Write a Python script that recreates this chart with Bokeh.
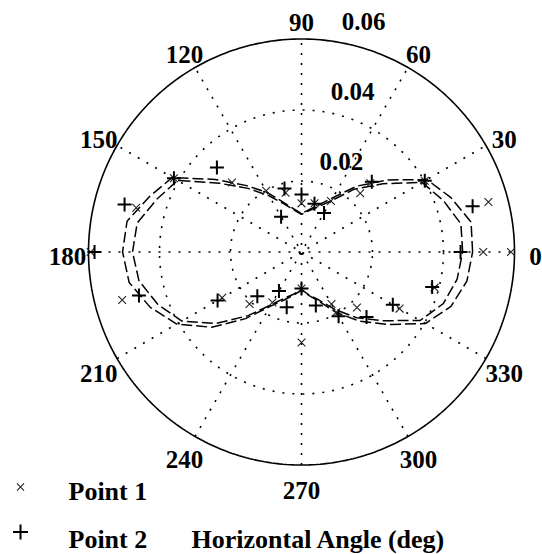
import numpy as np
from bokeh.plotting import figure
from bokeh.models import Range1d
from bokeh.embed import file_html
from bokeh.resources import INLINE
from bokeh.core.properties import value

# ---------------- data ----------------
curve_angles = [0, 10, 20, 30, 40, 50, 60, 70, 80, 90, 100, 110, 120, 130, 140, 150, 160, 170,
                180, 190, 200, 210, 220, 230, 240, 250, 260, 270, 280, 290, 300, 310, 320, 330, 340, 350]
curve1_r = [0.0482, 0.0485, 0.0448, 0.0408, 0.0316, 0.0242, 0.0177, 0.0141, 0.0121, 0.0108,
            0.0123, 0.0149, 0.0194, 0.0245, 0.0318, 0.0420, 0.0456, 0.0499, 0.0504, 0.0493,
            0.0454, 0.0406, 0.0330, 0.0245, 0.0177, 0.0144, 0.0123, 0.0108, 0.0125, 0.0149,
            0.0197, 0.0254, 0.0318, 0.0403, 0.0448, 0.0473]
curve2_r = [0.0454, 0.0456, 0.0425, 0.0392, 0.0299, 0.0231, 0.0166, 0.0135, 0.0118, 0.0106,
            0.0120, 0.0144, 0.0183, 0.0234, 0.0301, 0.0403, 0.0434, 0.0470, 0.0476, 0.0465,
            0.0431, 0.0389, 0.0313, 0.0234, 0.0172, 0.0138, 0.0120, 0.0106, 0.0123, 0.0144,
            0.0186, 0.0242, 0.0301, 0.0386, 0.0425, 0.0445]

p1_angle = [0, 0, 15, 30, 45, 45, 60, 75, 90, 105, 120, 135, 150, 165, 180, 195, 210, 225, 240,
            270, 270, 300, 300, 315, 330, 345]
p1_r = [0.0512, 0.0590, 0.0545, 0.0401, 0.0234, 0.0274, 0.0166, 0.0142, 0.0137, 0.0173, 0.0199,
        0.0277, 0.0415, 0.0482, 0.0594, 0.0523, 0.0258, 0.0207, 0.0164, 0.0103, 0.0255, 0.0169,
        0.0196, 0.0221, 0.0319, 0.0388]

p2_angle = [0, 15, 30, 45, 60, 75, 90, 105, 120, 135, 150, 165, 180, 195, 210, 225, 240, 255,
            270, 285, 300, 315, 330, 345]
p2_r = [0.0448, 0.0499, 0.0401, 0.0280, 0.0127, 0.0141, 0.0162, 0.0185, 0.0115, 0.0337, 0.0415,
        0.0516, 0.0583, 0.0474, 0.0273, 0.0176, 0.0127, 0.0161, 0.0103, 0.0156, 0.0209, 0.0259,
        0.0297, 0.0381]

angle_ticks = [0, 30, 60, 90, 120, 150, 180, 210, 240, 270, 300, 330]
angle_labels = ["0", "30", "60", "90", "120", "150", "180", "210", "240", "270", "300", "330"]
radial_ticks = [0.02, 0.04, 0.06]
radial_labels = ["0.02", "0.04", "0.06"]
legend_labels = ["Point 1", "Point 2"]
axis_title = "Horizontal Angle (deg)"

# ---------------- layout ----------------
RMAX = 0.06
RPX = 213.0           # outer circle radius in px
K = RMAX / RPX        # data units per px
CX, CY = 301.0, 251.5 # center in picture px
W, H = 542, 554
TXT_UP = 8.0          # svg text renders a little low; lift baselines

FONT = value("Liberation Serif")
FS = "25px"
FS_LEG = "26px"

p = figure(width=W, height=H, output_backend="svg", toolbar_location=None,
           x_range=Range1d((0 - CX) * K, (W - CX) * K),
           y_range=Range1d((CY - H) * K, CY * K),
           min_border=0, outline_line_color=None)
p.axis.visible = False
p.grid.visible = False
p.background_fill_color = "white"
p.border_fill_color = "white"

t = np.linspace(0, 2 * np.pi, 361)
# dotted rings
for rt in radial_ticks[:-1]:
    p.line(rt * np.cos(t), rt * np.sin(t), line_color="black", line_width=1.6, line_dash="2 8")
# spokes
for a in range(0, 180, 30):
    ar = np.deg2rad(a)
    p.line([-RMAX * np.cos(ar), RMAX * np.cos(ar)], [-RMAX * np.sin(ar), RMAX * np.sin(ar)],
           line_color="black", line_width=1.6, line_dash="2 8")
# outer circle
p.line(RMAX * np.cos(t), RMAX * np.sin(t), line_color="black", line_width=1.6)

# model curves
for cr in (curve1_r, curve2_r):
    ang = np.deg2rad(np.array(curve_angles + [360]))
    rr = np.array(cr + [cr[0]])
    p.line(rr * np.cos(ang), rr * np.sin(ang), line_color="black", line_width=1.5, line_dash="11 4")

# points
a1 = np.deg2rad(p1_angle)
p.scatter(np.array(p1_r) * np.cos(a1), np.array(p1_r) * np.sin(a1), marker="x", size=11,
          line_color="#222222", line_width=1.1)
a2 = np.deg2rad(p2_angle)
p.scatter(np.array(p2_r) * np.cos(a2), np.array(p2_r) * np.sin(a2), marker="cross", size=14,
          line_color="black", line_width=2)

# angle labels
RL = 234.0
lx, ly = [], []
for a in angle_ticks:
    ar = np.deg2rad(a)
    lx.append(RL * np.cos(ar) * K)
    ly.append((RL * np.sin(ar) - 12.7 + TXT_UP) * K)
p.text(lx, ly, text=angle_labels, text_font=FONT, text_font_style="bold", text_font_size=FS,
       text_align="center", text_baseline="alphabetic", text_color="black")

# radial labels
rx = [(r / K * np.cos(np.deg2rad(81)) + 7) * K for r in radial_ticks]
ry = [(r / K * np.sin(np.deg2rad(81)) + 12.5 + TXT_UP) * K for r in radial_ticks]
p.text(rx, ry, text=radial_labels, text_font=FONT, text_font_style="bold", text_font_size=FS,
       text_align="left", text_baseline="alphabetic", text_color="black")

# legend (manual, below plot)
def px(x):
    return (x - CX) * K

def py(y):
    return (CY - y) * K

p.scatter([px(20)], [py(486.5)], marker="x", size=10, line_color="#222222", line_width=1.1)
p.scatter([px(20)], [py(531.5)], marker="cross", size=15, line_color="black", line_width=2)
p.text([px(68), px(68)], [py(499 - TXT_UP), py(547 - TXT_UP)], text=legend_labels, text_font=FONT,
       text_font_style="bold", text_font_size=FS_LEG, text_align="left", text_baseline="alphabetic",
       text_color="black")
p.text([px(191)], [py(547 - TXT_UP)], text=[axis_title], text_font=FONT, text_font_style="bold",
       text_font_size=FS_LEG, text_align="left", text_baseline="alphabetic", text_color="black")

open("out.html", "w").write(file_html(p, INLINE))
